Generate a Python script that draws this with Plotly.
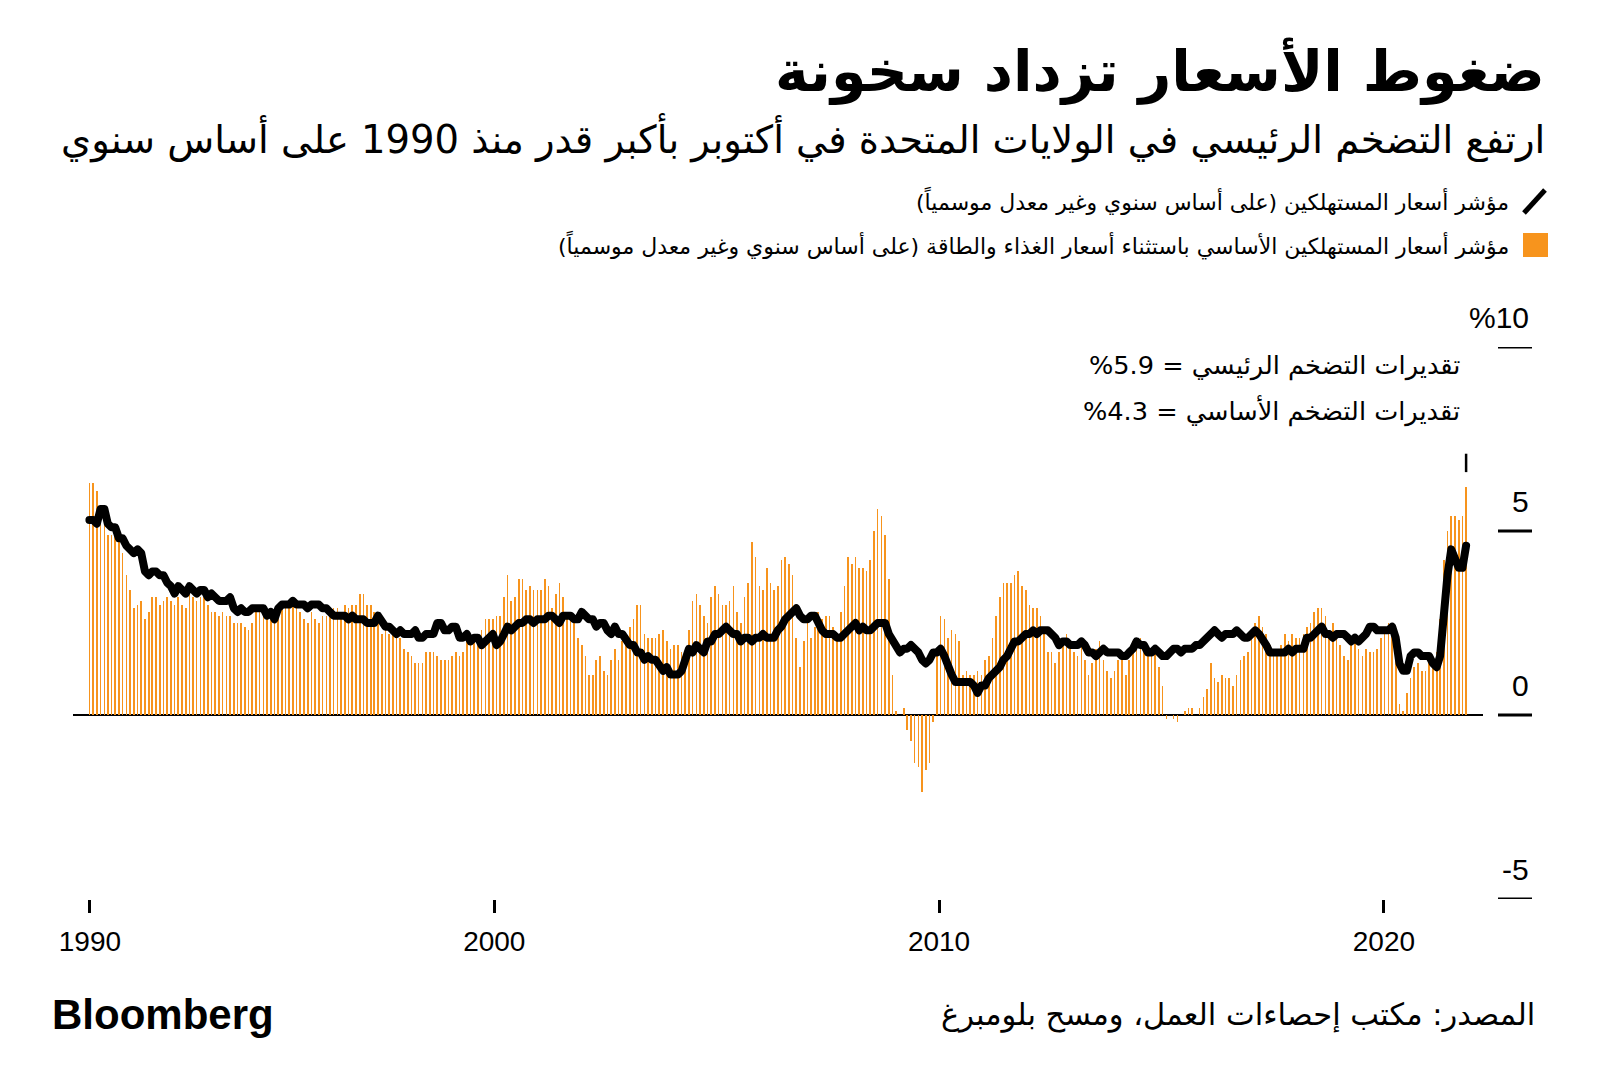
import pandas as pd
import plotly.graph_objects as go

# ---------------- data (US CPI, YoY %, monthly Oct-1990 .. Oct-2021) ----------------
start_month = "1990-10-01"

headline_cpi = [
    6.3, 6.3, 6.1,
    5.7, 5.3, 4.9, 4.9, 5.0, 4.7, 4.4, 3.8, 3.4, 2.9, 3.0, 3.1,
    2.6, 2.8, 3.2, 3.2, 3.0, 3.1, 3.2, 3.1, 3.0, 3.2, 3.0, 2.9,
    3.3, 3.2, 3.1, 3.2, 3.2, 3.0, 2.8, 2.8, 2.7, 2.8, 2.7, 2.7,
    2.5, 2.5, 2.5, 2.4, 2.3, 2.5, 2.8, 2.9, 3.0, 2.6, 2.7, 2.7,
    2.8, 2.9, 2.9, 3.1, 3.2, 3.0, 2.8, 2.6, 2.5, 2.8, 2.6, 2.5,
    2.7, 2.7, 2.8, 2.9, 2.9, 2.8, 3.0, 2.9, 3.0, 3.0, 3.3, 3.3,
    3.0, 3.0, 2.8, 2.5, 2.2, 2.3, 2.2, 2.2, 2.2, 2.1, 1.8, 1.7,
    1.6, 1.4, 1.4, 1.4, 1.7, 1.7, 1.7, 1.6, 1.5, 1.5, 1.5, 1.6,
    1.7, 1.6, 1.7, 2.3, 2.1, 2.0, 2.1, 2.3, 2.6, 2.6, 2.6, 2.7,
    2.7, 3.2, 3.8, 3.1, 3.2, 3.7, 3.7, 3.4, 3.5, 3.4, 3.4, 3.4,
    3.7, 3.5, 2.9, 3.3, 3.6, 3.2, 2.7, 2.7, 2.6, 2.1, 1.9, 1.6,
    1.1, 1.1, 1.5, 1.6, 1.2, 1.1, 1.5, 1.8, 1.5, 2.0, 2.2, 2.4,
    2.6, 3.0, 3.0, 2.2, 2.1, 2.1, 2.1, 2.2, 2.3, 2.0, 1.8, 1.9,
    1.9, 1.7, 1.7, 2.3, 3.1, 3.3, 3.0, 2.7, 2.5, 3.2, 3.5, 3.3,
    3.0, 3.0, 3.1, 3.5, 2.8, 2.5, 3.2, 3.6, 4.7, 4.3, 3.5, 3.4,
    4.0, 3.6, 3.4, 3.5, 4.2, 4.3, 4.1, 3.8, 2.1, 1.3, 2.0, 2.5,
    2.1, 2.4, 2.8, 2.6, 2.7, 2.7, 2.4, 2.0, 2.8, 3.5, 4.3, 4.1,
    4.3, 4.0, 4.0, 3.9, 4.2, 5.0, 5.6, 5.4, 4.9, 3.7, 1.1, 0.1,
    0.0, 0.2, -0.4, -0.7, -1.3, -1.4, -2.1, -1.5, -1.3, -0.2, 1.8, 2.7,
    2.6, 2.1, 2.3, 2.2, 2.0, 1.1, 1.2, 1.1, 1.1, 1.2, 1.1, 1.5,
    1.6, 2.1, 2.7, 3.2, 3.6, 3.6, 3.6, 3.8, 3.9, 3.5, 3.4, 3.0,
    2.9, 2.9, 2.7, 2.3, 1.7, 1.7, 1.4, 1.7, 2.0, 2.2, 1.8, 1.7,
    1.6, 2.0, 1.5, 1.1, 1.4, 1.8, 2.0, 1.5, 1.2, 1.0, 1.2, 1.5,
    1.6, 1.1, 1.5, 2.0, 2.1, 2.1, 2.0, 1.7, 1.7, 1.7, 1.3, 0.8,
    -0.1, 0.0, -0.1, -0.2, 0.0, 0.1, 0.2, 0.2, 0.0, 0.2, 0.5, 0.7,
    1.4, 1.0, 0.9, 1.1, 1.0, 1.0, 0.8, 1.1, 1.5, 1.6, 1.7, 2.1,
    2.5, 2.7, 2.4, 2.2, 1.9, 1.6, 1.7, 1.9, 2.2, 2.0, 2.2, 2.1,
    2.1, 2.2, 2.4, 2.5, 2.8, 2.9, 2.9, 2.7, 2.3, 2.5, 2.2, 1.9,
    1.6, 1.5, 1.9, 2.0, 1.8, 1.6, 1.8, 1.7, 1.7, 1.8, 2.1, 2.3,
    2.5, 2.3, 1.5, 0.3, 0.1, 0.6, 1.0, 1.3, 1.4, 1.2, 1.2, 1.4,
    1.4, 1.7, 2.6, 4.2, 5.0, 5.4, 5.4, 5.3, 5.4, 6.2,
]

core_cpi = [
    5.3, 5.3, 5.2,
    5.6, 5.6, 5.2, 5.1, 5.1, 4.8, 4.8, 4.6, 4.5, 4.4, 4.5, 4.4,
    3.9, 3.8, 3.9, 3.9, 3.8, 3.8, 3.6, 3.5, 3.3, 3.5, 3.4, 3.3,
    3.5, 3.4, 3.3, 3.4, 3.4, 3.2, 3.3, 3.2, 3.1, 3.1, 3.1, 3.2,
    2.9, 2.8, 2.9, 2.8, 2.8, 2.9, 2.9, 2.9, 2.9, 2.7, 2.8, 2.6,
    2.9, 3.0, 3.0, 3.0, 3.1, 3.0, 3.0, 3.0, 2.9, 3.0, 3.0, 3.0,
    2.9, 2.9, 2.8, 2.7, 2.7, 2.7, 2.7, 2.6, 2.7, 2.6, 2.6, 2.6,
    2.5, 2.5, 2.5, 2.7, 2.5, 2.4, 2.4, 2.3, 2.2, 2.3, 2.2, 2.2,
    2.2, 2.3, 2.1, 2.1, 2.2, 2.2, 2.2, 2.5, 2.5, 2.3, 2.3, 2.4,
    2.4, 2.1, 2.1, 2.2, 2.0, 2.1, 2.1, 1.9, 2.0, 2.1, 2.2, 1.9,
    2.0, 2.2, 2.4, 2.3, 2.4, 2.5, 2.5, 2.6, 2.6, 2.5, 2.6, 2.6,
    2.6, 2.7, 2.7, 2.6, 2.5, 2.7, 2.7, 2.7, 2.6, 2.6, 2.8, 2.7,
    2.6, 2.6, 2.4, 2.5, 2.5, 2.3, 2.2, 2.4, 2.2, 2.2, 2.0, 1.9,
    1.9, 1.7, 1.7, 1.5, 1.6, 1.5, 1.5, 1.3, 1.2, 1.3, 1.1, 1.1,
    1.1, 1.2, 1.6, 1.8, 1.7, 1.9, 1.8, 1.7, 2.0, 2.0, 2.2, 2.2,
    2.3, 2.4, 2.3, 2.2, 2.2, 2.0, 2.1, 2.1, 2.0, 2.1, 2.1, 2.2,
    2.1, 2.1, 2.1, 2.3, 2.4, 2.6, 2.7, 2.8, 2.9, 2.7, 2.6, 2.6,
    2.7, 2.7, 2.5, 2.3, 2.2, 2.2, 2.2, 2.1, 2.1, 2.2, 2.3, 2.4,
    2.5, 2.3, 2.4, 2.3, 2.3, 2.4, 2.5, 2.5, 2.5, 2.2, 2.0, 1.8,
    1.7, 1.8, 1.8, 1.9, 1.8, 1.7, 1.5, 1.4, 1.5, 1.7, 1.7, 1.8,
    1.6, 1.3, 1.1, 0.9, 0.9, 0.9, 0.9, 0.9, 0.8, 0.6, 0.8, 0.8,
    1.0, 1.1, 1.2, 1.3, 1.5, 1.6, 1.8, 2.0, 2.0, 2.1, 2.2, 2.2,
    2.3, 2.2, 2.3, 2.3, 2.3, 2.2, 2.1, 1.9, 2.0, 2.0, 1.9, 1.9,
    1.9, 2.0, 1.9, 1.7, 1.7, 1.6, 1.7, 1.8, 1.7, 1.7, 1.7, 1.7,
    1.6, 1.6, 1.7, 1.8, 2.0, 1.9, 1.9, 1.7, 1.7, 1.8, 1.7, 1.6,
    1.6, 1.7, 1.8, 1.8, 1.7, 1.8, 1.8, 1.8, 1.9, 1.9, 2.0, 2.1,
    2.2, 2.3, 2.2, 2.1, 2.2, 2.2, 2.2, 2.3, 2.2, 2.1, 2.1, 2.2,
    2.3, 2.2, 2.0, 1.9, 1.7, 1.7, 1.7, 1.7, 1.7, 1.8, 1.7, 1.8,
    1.8, 1.8, 2.1, 2.1, 2.2, 2.3, 2.4, 2.2, 2.2, 2.1, 2.2, 2.2,
    2.2, 2.1, 2.0, 2.1, 2.0, 2.1, 2.2, 2.4, 2.4, 2.3, 2.3, 2.3,
    2.3, 2.4, 2.1, 1.4, 1.2, 1.2, 1.6, 1.7, 1.7, 1.6, 1.6, 1.6,
    1.4, 1.3, 1.6, 3.0, 3.8, 4.5, 4.3, 4.0, 4.0, 4.6,
]

x_tick_labels = ["1990", "2000", "2010", "2020"]
x_tick_dates = ["1990-10-05", "1999-11-13", "2009-11-18", "2019-11-25"]
y_tick_values = [10, 5, 0, -5]
y_tick_labels = ["%10", "5", "0", "-5"]

title_text = "ضغوط الأسعار تزداد سخونة"
subtitle_text = "ارتفع التضخم الرئيسي في الولايات المتحدة في أكتوبر بأكبر قدر منذ 1990 على أساس سنوي"
legend_line_text = "مؤشر أسعار المستهلكين (على أساس سنوي وغير معدل موسمياً)"
legend_bar_text = "مؤشر أسعار المستهلكين الأساسي باستثناء أسعار الغذاء والطاقة (على أساس سنوي وغير معدل موسمياً)"
estimate_texts = ["تقديرات التضخم الرئيسي = 5.9%", "تقديرات التضخم الأساسي = 4.3%"]
source_text = "المصدر: مكتب إحصاءات العمل، ومسح بلومبرغ"

dates = pd.date_range(start_month, periods=len(headline_cpi), freq="MS")

# ---------------- layout geometry ----------------
W, H = 1600, 1092
ML, MR, MT, MB = 73, 117, 347, 193
PW, PH = W - ML - MR, H - MT - MB

ORANGE = "#F7941D"
AR_FONT = "DejaVu Sans"
LAT_FONT = "Liberation Sans, Arial, sans-serif"


def px(xp):
    return (xp - ML) / PW


def py(yp):
    return (H - MB - yp) / PH


def rtl(s):
    return "\u202b" + s + "\u202c"


fig = go.Figure()
fig.add_trace(go.Bar(
    x=dates, y=headline_cpi, marker=dict(color=ORANGE, line=dict(width=0)),
    width=13.5 * 24 * 3600 * 1000, showlegend=False, hoverinfo="skip",
))
fig.add_trace(go.Scatter(
    x=dates, y=core_cpi, mode="lines", line=dict(color="black", width=8),
    showlegend=False, hoverinfo="skip",
))

shapes = []
annotations = []

# y ticks (short dashes at right with labels above)
for v, lab in zip(y_tick_values, y_tick_labels):
    shapes.append(dict(type="line", xref="paper", yref="y", x0=px(1498), x1=px(1532),
                       y0=v, y1=v, line=dict(color="black", width=3)))
    annotations.append(dict(xref="paper", yref="y", x=px(1531), y=v, text=lab,
                            xanchor="right", yanchor="bottom", yshift=11, showarrow=False,
                            font=dict(family=LAT_FONT, size=30, color="black")))

# leader mark above last bar
shapes.append(dict(type="line", xref="x", yref="y", x0=dates[-1], x1=dates[-1],
                   y0=6.6, y1=7.1, line=dict(color="black", width=2.5)))

# legend icons
shapes.append(dict(type="line", xref="paper", yref="paper", x0=px(1524), y0=py(213),
                   x1=px(1545), y1=py(190), line=dict(color="black", width=5)))
shapes.append(dict(type="rect", xref="paper", yref="paper", x0=px(1523), y0=py(257),
                   x1=px(1548), y1=py(233), line=dict(width=0), fillcolor=ORANGE))

# texts
annotations += [
    dict(xref="paper", yref="paper", x=px(1547), y=py(71), text="<b>" + rtl(title_text) + "</b>",
         xanchor="right", yanchor="middle", showarrow=False,
         font=dict(family=AR_FONT, size=57, color="black")),
    dict(xref="paper", yref="paper", x=px(1547), y=py(138), text=rtl(subtitle_text),
         xanchor="right", yanchor="middle", showarrow=False,
         font=dict(family=AR_FONT, size=38.5, color="black")),
    dict(xref="paper", yref="paper", x=px(1511), y=py(201), text=rtl(legend_line_text),
         xanchor="right", yanchor="middle", showarrow=False,
         font=dict(family=AR_FONT, size=22, color="black")),
    dict(xref="paper", yref="paper", x=px(1511), y=py(245), text=rtl(legend_bar_text),
         xanchor="right", yanchor="middle", showarrow=False,
         font=dict(family=AR_FONT, size=22, color="black")),
    dict(xref="paper", yref="paper", x=px(1462), y=py(365), text=rtl(estimate_texts[0]),
         xanchor="right", yanchor="middle", showarrow=False,
         font=dict(family=AR_FONT, size=25.6, color="black")),
    dict(xref="paper", yref="paper", x=px(1462), y=py(410), text=rtl(estimate_texts[1]),
         xanchor="right", yanchor="middle", showarrow=False,
         font=dict(family=AR_FONT, size=25.6, color="black")),
    dict(xref="paper", yref="paper", x=px(1537), y=py(1015), text=rtl(source_text),
         xanchor="right", yanchor="middle", showarrow=False,
         font=dict(family=AR_FONT, size=30.5, color="black")),
    dict(xref="paper", yref="paper", x=px(50), y=py(1014), text="<b>Bloomberg</b>",
         xanchor="left", yanchor="middle", showarrow=False,
         font=dict(family=LAT_FONT, size=42, color="black")),
]

fig.update_layout(
    width=W, height=H, margin=dict(l=ML, r=MR, t=MT, b=MB, pad=0),
    paper_bgcolor="white", plot_bgcolor="white",
    bargap=0, shapes=shapes, annotations=annotations,
    xaxis=dict(type="date", range=["1990-05-19", "2022-02-17"], showgrid=False,
               zeroline=False, showline=False,
               tickvals=x_tick_dates, ticktext=x_tick_labels,
               ticks="outside", ticklen=13, tickwidth=3, tickcolor="black",
               ticklabelstandoff=4,
               tickfont=dict(family=LAT_FONT, size=28, color="black")),
    yaxis=dict(range=[-5, 10], showgrid=False, showticklabels=False, ticks="",
               zeroline=True, zerolinecolor="black", zerolinewidth=1.5, showline=False),
)

fig.write_html(
    "out.html",
    config={"displayModeBar": False, "staticPlot": True},
    post_script=(
        "document.body.style.margin='0';"
        "document.querySelectorAll('.js-line').forEach(function(p){"
        "p.style.strokeLinejoin='round';p.style.strokeLinecap='round';});"
    ),
)
